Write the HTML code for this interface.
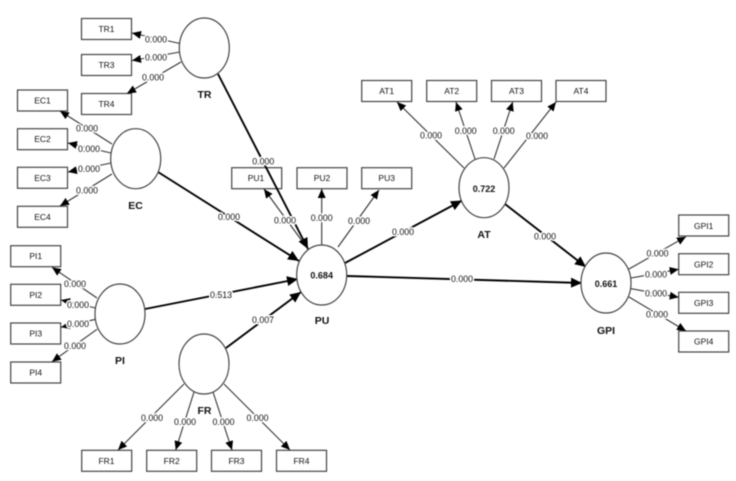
<!DOCTYPE html>
<html><head><meta charset="utf-8"><style>
html,body{margin:0;padding:0;background:#fff;width:736px;height:481px;overflow:hidden}
svg{display:block;filter:blur(.55px)}
text{font-family:"Liberation Sans",sans-serif;text-anchor:middle;dominant-baseline:central}
.r{fill:#fff;stroke:#444;stroke-width:1.2}
.c{fill:#fff;stroke:#444;stroke-width:1.2}
.l{stroke:#333;stroke-width:1.1;fill:none;marker-end:url(#a)}
.p{stroke:#000;stroke-width:1.9;fill:none;marker-end:url(#b)}
.t{font-size:8.5px;fill:#111}
.v{font-size:8.8px;fill:#111;stroke:#fff;stroke-width:3px;paint-order:stroke;stroke-linejoin:round}
.n{font-size:10.5px;font-weight:bold;fill:#111}
.q{font-size:9px;font-weight:bold;fill:#111}
</style></head><body>
<svg width="736" height="481" viewBox="0 0 736 481" xmlns="http://www.w3.org/2000/svg">
<defs>
<marker id="a" markerUnits="userSpaceOnUse" markerWidth="10" markerHeight="9" refX="9" refY="4" orient="auto"><path d="M0 0L9 4L0 8z" fill="#000"/></marker>
<marker id="b" markerUnits="userSpaceOnUse" markerWidth="12" markerHeight="11" refX="11" refY="5" orient="auto"><path d="M0 0L11 5L0 10z" fill="#000"/></marker>
</defs>
<rect width="736" height="481" fill="#fff"/>
<g class="rects">
<rect class="r" x="81.5" y="18.5" width="50" height="21"/>
<rect class="r" x="81.5" y="54.5" width="50" height="21"/>
<rect class="r" x="81.5" y="93.5" width="50" height="21"/>
<rect class="r" x="17.5" y="90" width="50" height="21"/>
<rect class="r" x="17.5" y="128.7" width="50" height="21"/>
<rect class="r" x="17.5" y="167.3" width="50" height="21"/>
<rect class="r" x="17.5" y="206.3" width="50" height="21"/>
<rect class="r" x="10.7" y="245.7" width="50" height="21"/>
<rect class="r" x="10.7" y="284.3" width="50" height="21"/>
<rect class="r" x="10.7" y="323" width="50" height="21"/>
<rect class="r" x="10.7" y="362" width="50" height="21"/>
<rect class="r" x="81.7" y="450.3" width="50" height="21"/>
<rect class="r" x="146.7" y="450.3" width="50" height="21"/>
<rect class="r" x="211.5" y="450.3" width="50" height="21"/>
<rect class="r" x="276.5" y="450.3" width="50" height="21"/>
<rect class="r" x="231.7" y="167.7" width="50" height="21"/>
<rect class="r" x="297" y="167.7" width="50" height="21"/>
<rect class="r" x="361.7" y="167.7" width="50" height="21"/>
<rect class="r" x="361.7" y="80.5" width="50" height="21"/>
<rect class="r" x="426.7" y="80.5" width="50" height="21"/>
<rect class="r" x="491.5" y="80.5" width="50" height="21"/>
<rect class="r" x="556" y="80.5" width="50" height="21"/>
<rect class="r" x="678.7" y="215" width="50" height="21"/>
<rect class="r" x="678.7" y="253.7" width="50" height="21"/>
<rect class="r" x="678.7" y="292.3" width="50" height="21"/>
<rect class="r" x="678.7" y="331" width="50" height="21"/>
</g>
<g>
<line class="l" x1="180" y1="43.5" x2="132" y2="33"/>
<line class="l" x1="180" y1="52" x2="132" y2="60.5"/>
<line class="l" x1="181" y1="62" x2="127" y2="93.5"/>
<line class="l" x1="112" y1="144" x2="60" y2="111"/>
<line class="l" x1="111" y1="153" x2="68" y2="143"/>
<line class="l" x1="111" y1="163" x2="68" y2="172"/>
<line class="l" x1="112" y1="174" x2="60" y2="206"/>
<line class="l" x1="97" y1="298" x2="52" y2="267.3"/>
<line class="l" x1="95.7" y1="308" x2="61" y2="300"/>
<line class="l" x1="95.7" y1="319.3" x2="61" y2="327.3"/>
<line class="l" x1="97" y1="329.3" x2="52" y2="361.7"/>
<line class="l" x1="184" y1="384" x2="118" y2="450"/>
<line class="l" x1="194" y1="392" x2="175.7" y2="450"/>
<line class="l" x1="213" y1="392" x2="232" y2="450"/>
<line class="l" x1="224" y1="384" x2="290" y2="450"/>
<line class="l" x1="305" y1="245" x2="264" y2="189"/>
<line class="l" x1="321.7" y1="245" x2="321.7" y2="189"/>
<line class="l" x1="338" y1="247" x2="379" y2="190"/>
<line class="l" x1="464" y1="168" x2="397" y2="102"/>
<line class="l" x1="475" y1="159" x2="456" y2="102"/>
<line class="l" x1="494" y1="159" x2="512.7" y2="102"/>
<line class="l" x1="504" y1="168" x2="556" y2="102"/>
<line class="l" x1="629" y1="269" x2="686" y2="236.7"/>
<line class="l" x1="631" y1="278" x2="678.7" y2="269.3"/>
<line class="l" x1="631" y1="288.7" x2="678.7" y2="297.3"/>
<line class="l" x1="629" y1="297" x2="686" y2="331"/>
<line class="p" x1="218" y1="74" x2="308" y2="249"/>
<line class="p" x1="158" y1="172" x2="299" y2="261"/>
<line class="p" x1="145" y1="309" x2="298" y2="279"/>
<line class="p" x1="226" y1="348" x2="301" y2="292"/>
<line class="p" x1="345" y1="263" x2="462" y2="200.5"/>
<line class="p" x1="347" y1="276" x2="582" y2="283"/>
<line class="p" x1="505" y1="204" x2="586" y2="267"/>
</g>
<g>
<ellipse class="c" cx="204.3" cy="48" rx="25" ry="30"/>
<ellipse class="c" cx="135.7" cy="158.7" rx="25" ry="30"/>
<ellipse class="c" cx="120" cy="314" rx="25" ry="30"/>
<ellipse class="c" cx="204" cy="364" rx="25" ry="30"/>
<ellipse class="c" cx="321.7" cy="275" rx="25" ry="30"/>
<ellipse class="c" cx="484" cy="187.7" rx="25" ry="30"/>
<ellipse class="c" cx="606" cy="283" rx="25" ry="30"/>
</g>
<g class="t">
<text x="106.5" y="29">TR1</text><text x="106.5" y="65">TR3</text><text x="106.5" y="104">TR4</text>
<text x="42.5" y="100.5">EC1</text><text x="42.5" y="139">EC2</text><text x="42.5" y="178">EC3</text><text x="42.5" y="217">EC4</text>
<text x="35.7" y="256">PI1</text><text x="35.7" y="295">PI2</text><text x="35.7" y="333.5">PI3</text><text x="35.7" y="372.5">PI4</text>
<text x="106.5" y="461">FR1</text><text x="171.7" y="461">FR2</text><text x="236.5" y="461">FR3</text><text x="301.5" y="461">FR4</text>
<text x="256" y="178">PU1</text><text x="322" y="178">PU2</text><text x="386.7" y="178">PU3</text>
<text x="386.7" y="91">AT1</text><text x="451.7" y="91">AT2</text><text x="516.5" y="91">AT3</text><text x="581" y="91">AT4</text>
<text x="703.7" y="226">GPI1</text><text x="703.7" y="264.5">GPI2</text><text x="703.7" y="303">GPI3</text><text x="703.7" y="341.5">GPI4</text>
</g>
<g class="v">
<text x="156" y="39.5">0.000</text><text x="156" y="57.5">0.000</text><text x="153" y="77.5">0.000</text>
<text x="87" y="128.5">0.000</text><text x="89" y="149">0.000</text><text x="89" y="169">0.000</text><text x="87" y="190.5">0.000</text>
<text x="75" y="284">0.000</text><text x="78" y="305">0.000</text><text x="78" y="324">0.000</text><text x="75" y="346">0.000</text>
<text x="152" y="418">0.000</text><text x="185" y="422">0.000</text><text x="223.5" y="422">0.000</text><text x="257.5" y="418">0.000</text>
<text x="285" y="220.7">0.000</text><text x="321.7" y="218">0.000</text><text x="359" y="221">0.000</text>
<text x="431" y="135.7">0.000</text><text x="465.7" y="131">0.000</text><text x="503.7" y="131">0.000</text><text x="537" y="136">0.000</text>
<text x="657.5" y="253.5">0.000</text><text x="656" y="274.7">0.000</text><text x="656" y="293.5">0.000</text><text x="657" y="314.3">0.000</text>
<text x="263.3" y="161.7">0.000</text><text x="229" y="217">0.000</text><text x="221" y="295">0.513</text><text x="263" y="320">0.007</text>
<text x="403" y="232">0.000</text><text x="462" y="279">0.000</text><text x="545" y="236.5">0.000</text>
</g>
<g class="n">
<text x="204.5" y="95">TR</text><text x="135.5" y="206">EC</text><text x="120" y="361">PI</text><text x="204.5" y="411">FR</text>
<text x="322" y="321">PU</text><text x="484" y="235">AT</text><text x="606" y="331">GPI</text>
</g>
<g class="q">
<text x="321.7" y="275.5">0.684</text><text x="484" y="189">0.722</text><text x="606" y="284">0.661</text>
</g>
</svg>
</body></html>
